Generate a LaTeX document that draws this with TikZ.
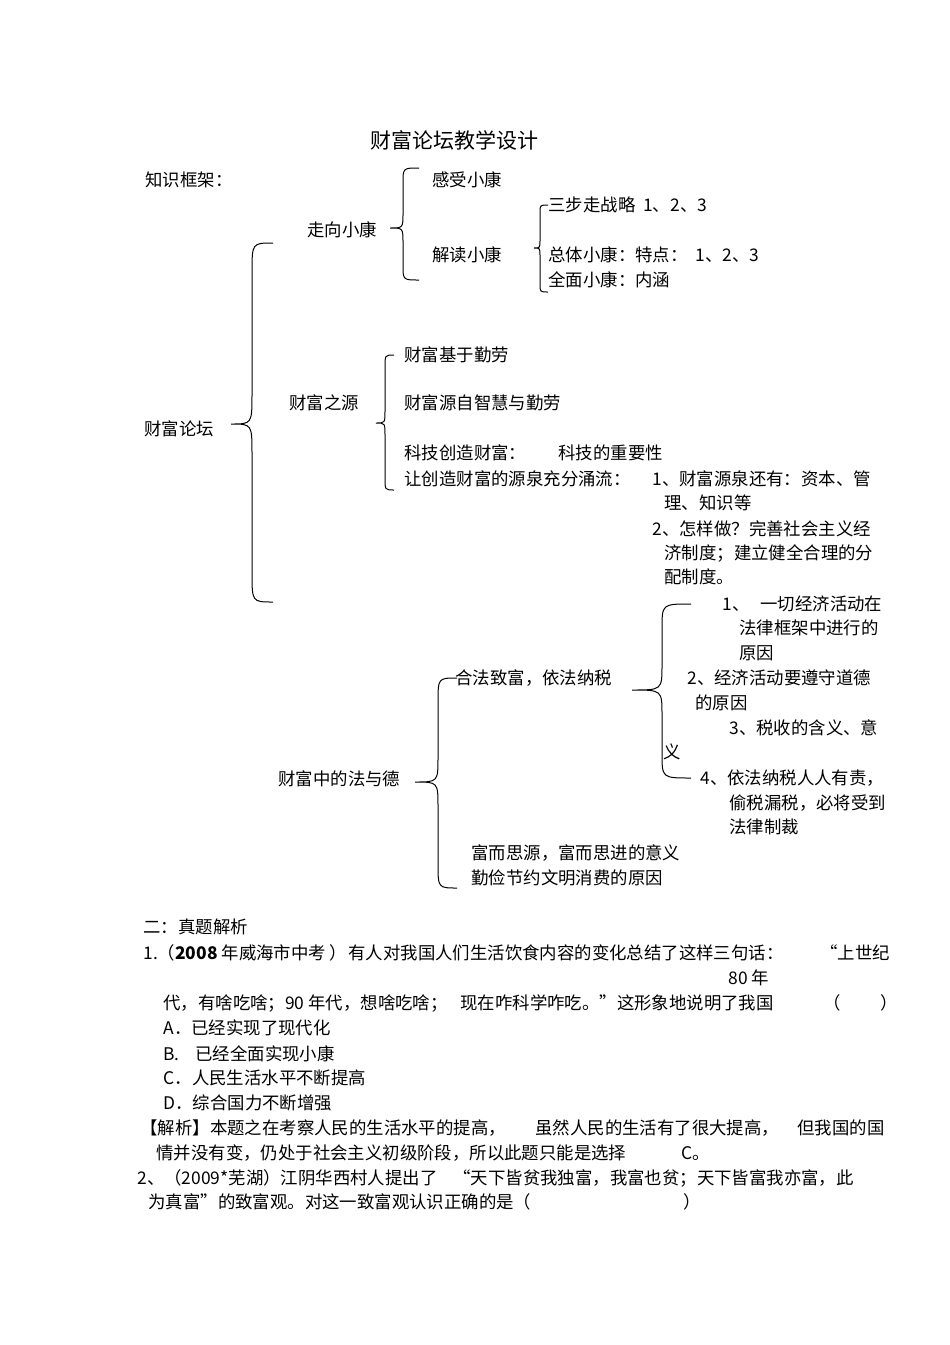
\documentclass[tikz,border=0pt]{standalone}
\usepackage{fontspec}
\setmainfont{Noto Sans CJK SC}
% brace: x end, x stem, x tip, y top, y tip, y bottom, radius
\newcommand\kbrace[7]{%
  \draw (#1,#4) .. controls (#2,#4) .. (#2,#4+#7) -- (#2,#5-#7)
    .. controls (#2,#5) .. (#3,#5) .. controls (#2,#5) .. (#2,#5+#7)
    -- (#2,#6-#7) .. controls (#2,#6) .. (#1,#6);}
\tikzset{
  txt/.style={anchor=west, inner sep=0pt, font=\fontsize{17.4}{20}\selectfont,
    text height=15.3pt, text depth=2.1pt},
  headtxt/.style={txt, font=\fontsize{21}{24}\selectfont}
}
\begin{document}
\begin{tikzpicture}[x=1pt, y=-1pt, line width=1pt]
  \useasboundingbox[fill=white] (0,0) rectangle (950,1345);
  \node[headtxt] (title) at (370,142) {财富论坛教学设计};
  \node[txt] (frame) at (145,180) {知识框架：};
  % part one
  \node[txt] (feel) at (432,180) {感受小康};
  \node[txt] (three) at (548,205) {三步走战略\ \ 1、2、3};
  \node[txt] (towards) at (307,230) {走向小康};
  \node[txt] (read) at (432,255) {解读小康};
  \node[txt] (overall) at (548,255) {总体小康：特点：\ \ 1、2、3};
  \node[txt] (full) at (548,280) {全面小康：内涵};
  \kbrace{419}{403}{390}{168}{228}{280}{15}
  \kbrace{548}{540}{534}{205}{248}{292}{8}
  % part two
  \node[txt] (root) at (144,429) {财富论坛};
  \kbrace{273}{252}{231}{243}{424}{602}{30}
  \node[txt] (source) at (289,403) {财富之源};
  \node[txt] (labour) at (404,355) {财富基于勤劳};
  \node[txt] (wisdom) at (404,403) {财富源自智慧与勤劳};
  \node[txt] (tech) at (404,453) {科技创造财富：};
  \node[txt] (techimp) at (558,453) {科技的重要性};
  \node[txt] (flow) at (404,479) {让创造财富的源泉充分涌流：};
  \node[txt] (flowa) at (652,479) {1、财富源泉还有：资本、管};
  \node[txt] (flowb) at (664,503) {理、知识等};
  \node[txt] (flowc) at (652,529) {2、怎样做？完善社会主义经};
  \node[txt] (flowd) at (664,553) {济制度；建立健全合理的分};
  \node[txt] (flowe) at (664,577) {配制度。};
  \kbrace{394}{385}{376}{355}{423}{490}{12}
  % part three
  \node[txt] (lawa) at (722,604) {1、};
  \node[txt] (lawb) at (760,604) {一切经济活动在};
  \node[txt] (lawc) at (739,628) {法律框架中进行的};
  \node[txt] (lawd) at (739,653) {原因};
  \node[txt] (legal) at (455,678) {合法致富，依法纳税};
  \node[txt] (morala) at (687,678) {2、经济活动要遵守道德};
  \node[txt] (moralb) at (695,703) {的原因};
  \node[txt] (taxa) at (729,728) {3、税收的含义、意};
  \node[txt] (taxb) at (663,752) {义};
  \node[txt] (lawmoral) at (278,779) {财富中的法与德};
  \node[txt] (duty) at (700,778) {4、依法纳税人人有责，};
  \node[txt] (dutyb) at (729,803) {偷税漏税，必将受到};
  \node[txt] (dutyc) at (729,827) {法律制裁};
  \node[txt] (think) at (471,853) {富而思源，富而思进的意义};
  \node[txt] (thrift) at (471,878) {勤俭节约文明消费的原因};
  \kbrace{457}{438}{415}{678}{782}{888}{25}
  \kbrace{691}{662}{632}{604}{690}{778}{25}
  % exercises
  \node[txt] (exam) at (143,927) {二：真题解析};
  \node[txt] (qa) at (143,953) {1.（\textbf{2008} 年威海市中考 ）};
  \node[txt] (qa2) at (348,953) {有人对我国人们生活饮食内容的变化总结了这样三句话：};
  \node[txt] (qb) at (820,953) {“上世纪};
  \node[txt] (qc) at (728,978) {80 年};
  \node[txt] (qd) at (163,1003) {代，有啥吃啥；90 年代，想啥吃啥；};
  \node[txt] (qd2) at (460,1003) {现在咋科学咋吃。”这形象地说明了我国};
  \node[txt] (qe) at (823,1003) {（};
  \node[txt] (qf) at (880,1003) {）};
  \node[txt] (opta) at (163,1028) {A．已经实现了现代化};
  \node[txt] (optb) at (163,1054) {B.\hspace{0.9em}已经全面实现小康};
  \node[txt] (optc) at (163,1078) {C．人民生活水平不断提高};
  \node[txt] (optd) at (163,1103) {D．综合国力不断增强};
  \node[txt] (ansa) at (140,1128) {【解析】本题之在考察人民的生活水平的提高，};
  \node[txt] (ansb) at (535,1128) {虽然人民的生活有了很大提高，};
  \node[txt] (ansc) at (797,1128) {但我国的国};
  \node[txt] (ansd) at (156,1153) {情并没有变，仍处于社会主义初级阶段，所以此题只能是选择};
  \node[txt] (anse) at (681,1153) {C。};
  \node[txt] (qg) at (137,1178) {2、（2009*芜湖）江阴华西村人提出了};
  \node[txt] (qg2) at (453,1178) {“天下皆贫我独富，我富也贫；天下皆富我亦富，此};
  \node[txt] (qh) at (148,1202) {为真富”的致富观。对这一致富观认识正确的是（};
  \node[txt] (qi) at (683,1202) {）};
\end{tikzpicture}
\end{document}
